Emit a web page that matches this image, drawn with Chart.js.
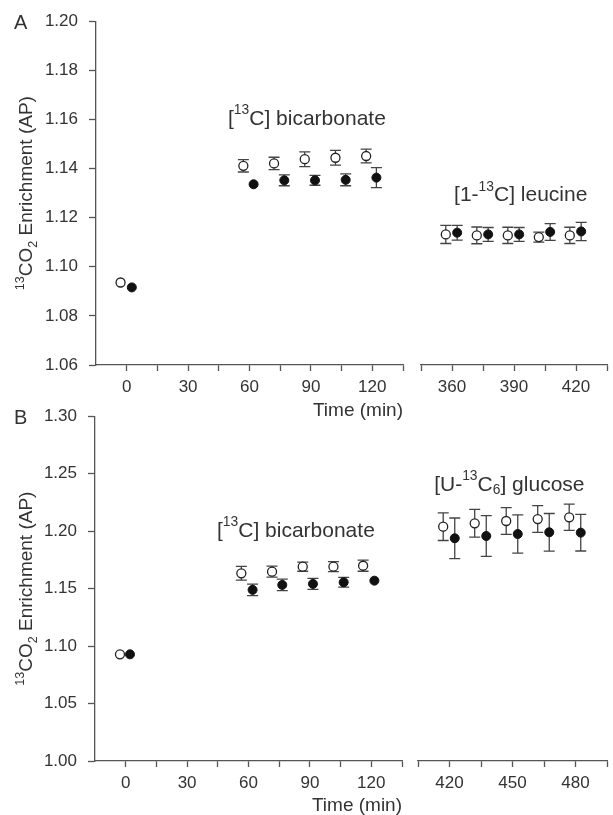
<!DOCTYPE html>
<html>
<head>
<meta charset="utf-8">
<script src="https://cdn.jsdelivr.net/npm/chart.js@4.4.1/dist/chart.umd.min.js"></script>
<style>
  html, body { margin: 0; padding: 0; background: #fff; width: 613px; height: 815px; overflow: hidden; }
  .box { position: absolute; }
</style>
</head>
<body>
<div class="box" style="left:0;top:0"><canvas id="aLeft" width="410" height="422"></canvas></div>
<div class="box" style="left:410px;top:0"><canvas id="aRight" width="203" height="422"></canvas></div>
<div class="box" style="left:0;top:395px"><canvas id="bLeft" width="410" height="422"></canvas></div>
<div class="box" style="left:410px;top:395px"><canvas id="bRight" width="203" height="422"></canvas></div>
<script>
"use strict";

// ---- Panel A: [13C] bicarbonate then [1-13C] leucine ----
const aOpenTime = [-3, 57, 72, 87, 102, 117, 357, 372, 387, 402, 417];
const aOpenValue = [1.0936, 1.1411, 1.1421, 1.1438, 1.1444, 1.1451, 1.1130, 1.1126, 1.1126, 1.1119, 1.1126];
const aOpenError = [0, 0.0025, 0.0025, 0.0030, 0.0030, 0.0028, 0.0037, 0.0034, 0.0033, 0.0020, 0.0033];
const aFilledTime = [2.5, 62, 77, 92, 107, 122, 362.5, 377.5, 392.5, 407.5, 422.5];
const aFilledValue = [1.0916, 1.1336, 1.1352, 1.1352, 1.1354, 1.1363, 1.1137, 1.1130, 1.1130, 1.1140, 1.1142];
const aFilledError = [0, 0, 0.0022, 0.0020, 0.0024, 0.0041, 0.0030, 0.0028, 0.0028, 0.0034, 0.0037];
const aYRange = [1.06, 1.20];
const aYStep = 0.02;
const aLeftX = [-15, 135];
const aRightX = [345, 435];

// ---- Panel B: [13C] bicarbonate then [U-13C6] glucose ----
const bOpenTime = [-2.8, 56.5, 71.5, 86.5, 101.5, 116, 417, 432, 447, 462, 477];
const bOpenValue = [1.0928, 1.1633, 1.1647, 1.1691, 1.1691, 1.1699, 1.2032, 1.2061, 1.2081, 1.2098, 1.2113];
const bOpenError = [0, 0.0060, 0.0048, 0.0040, 0.0043, 0.0048, 0.0120, 0.0120, 0.0116, 0.0116, 0.0114];
const bFilledTime = [2.1, 62, 76.5, 91.5, 106.5, 121.5, 422.5, 437.5, 452.5, 467.5, 482.5];
const bFilledValue = [1.0928, 1.1489, 1.1532, 1.1541, 1.1555, 1.1569, 1.1931, 1.1951, 1.1968, 1.1983, 1.1980];
const bFilledError = [0, 0.0050, 0.0050, 0.0048, 0.0043, 0, 0.0176, 0.0176, 0.0166, 0.0163, 0.0159];
const bYRange = [1.00, 1.30];
const bYStep = 0.05;
const bLeftX = [-15, 135];
const bRightX = [405, 495];

const xTickStep = 15;
const xLabelEvery = 30;

const FONT = "'Liberation Sans', Arial, Helvetica, sans-serif";
const TEXT = '#333';
const LINE = '#555';

// keep only the points that fall inside one segment of the broken axis
function pick(times, values, errors, range) {
    const data = [], errs = [];
    times.forEach((t, i) => {
        if (t >= range[0] && t <= range[1]) {
            data.push({ x: t, y: values[i] });
            errs.push(errors[i]);
        }
    });
    return { data, errs };
}

// draw text made of runs, some of them super/subscript
function drawRuns(ctx, runs, x, y, size) {
    let cx = x;
    runs.forEach(r => {
        const s = r.sup || r.sub ? size * 0.66 : size;
        ctx.font = s + 'px ' + FONT;
        const dy = r.sup ? -size * 0.40 : (r.sub ? size * 0.24 : 0);
        ctx.fillText(r.t, cx, y + dy);
        cx += ctx.measureText(r.t).width;
    });
}
function runsWidth(ctx, runs, size) {
    let w = 0;
    runs.forEach(r => {
        const s = r.sup || r.sub ? size * 0.66 : size;
        ctx.font = s + 'px ' + FONT;
        w += ctx.measureText(r.t).width;
    });
    return w;
}

// error bars drawn under the markers
const errorBars = {
    id: 'errorBars',
    beforeDatasetsDraw(chart) {
        const ctx = chart.ctx;
        const yScale = chart.scales.y;
        ctx.save();
        ctx.strokeStyle = '#444';
        ctx.lineWidth = 1.3;
        chart.data.datasets.forEach((ds, di) => {
            const meta = chart.getDatasetMeta(di);
            meta.data.forEach((pt, i) => {
                const e = ds.errors[i];
                if (!e) return;
                const v = ds.data[i].y;
                const top = yScale.getPixelForValue(v + e);
                const bot = yScale.getPixelForValue(v - e);
                ctx.beginPath();
                ctx.moveTo(pt.x, top); ctx.lineTo(pt.x, bot);
                ctx.moveTo(pt.x - 5.5, top); ctx.lineTo(pt.x + 5.5, top);
                ctx.moveTo(pt.x - 5.5, bot); ctx.lineTo(pt.x + 5.5, bot);
                ctx.stroke();
            });
        });
        ctx.restore();
    }
};

// labels placed in data coordinates, plus panel letter and y title
function labelPlugin(labels, letter) {
    return {
        id: 'labels',
        afterDraw(chart) {
            const ctx = chart.ctx;
            const xs = chart.scales.x, ys = chart.scales.y;
            ctx.save();
            ctx.fillStyle = TEXT;
            ctx.textBaseline = 'middle';
            labels.forEach(l => {
                drawRuns(ctx, l.runs, xs.getPixelForValue(l.x), ys.getPixelForValue(l.y), 21);
            });
            if (letter) {
                ctx.font = '20px ' + FONT;
                ctx.fillText(letter, 14, chart.chartArea.top + 2);
                // y axis title
                const runs = [{ t: '13', sup: true }, { t: 'CO' }, { t: '2', sub: true }, { t: ' Enrichment (AP)' }];
                const w = runsWidth(ctx, runs, 19);
                const cy = (chart.chartArea.top + chart.chartArea.bottom) / 2;
                ctx.translate(32, cy);
                ctx.rotate(-Math.PI / 2);
                ctx.textBaseline = 'alphabetic';
                drawRuns(ctx, runs, -w / 2, 0, 19);
            }
            ctx.restore();
        }
    };
}

function makeChart(id, o) {
    const open = pick(o.openTime, o.openValue, o.openError, o.xRange);
    const filled = pick(o.filledTime, o.filledValue, o.filledError, o.xRange);
    const canvas = document.getElementById(id);
    const ctx = canvas.getContext('2d');
    return new Chart(ctx, {
        type: 'scatter',
        data: {
            datasets: [
                { label: 'open', data: open.data, errors: open.errs,
                  backgroundColor: '#fff', borderColor: '#222', borderWidth: 1.3, pointRadius: 4.5 },
                { label: 'filled', data: filled.data, errors: filled.errs,
                  backgroundColor: '#111', borderColor: '#111', borderWidth: 1, pointRadius: 4.5 }
            ]
        },
        options: {
            responsive: false,
            animation: false,
            events: [],
            layout: { padding: o.pad },
            plugins: { legend: { display: false }, tooltip: { enabled: false } },
            scales: {
                x: {
                    type: 'linear',
                    min: o.xRange[0], max: o.xRange[1],
                    afterFit: s => { s.height = o.xAxisH; },
                    grid: {
                        drawOnChartArea: false, tickLength: 6, tickWidth: 1.3,
                        tickColor: c => (c.tick && c.tick.value === -15) ? 'rgba(0,0,0,0)' : LINE
                    },
                    border: { display: true, color: LINE, width: 1.3 },
                    ticks: {
                        stepSize: xTickStep, autoSkip: false, maxRotation: 0, padding: 6,
                        color: TEXT, font: { family: FONT, size: 17 },
                        callback: v => (v % xLabelEvery === 0 ? String(v) : '')
                    },
                    title: {
                        display: !!o.xTitle, text: o.xTitle || '', align: 'end',
                        color: TEXT, font: { family: FONT, size: 19 }, padding: { top: 0, bottom: 0 }
                    }
                },
                y: {
                    display: o.showY,
                    min: o.yRange[0], max: o.yRange[1],
                    afterFit: s => { s.width = o.yAxisW; },
                    grid: { drawOnChartArea: false, tickLength: 7, tickWidth: 1.3, tickColor: LINE },
                    border: { display: true, color: LINE, width: 1.3 },
                    ticks: {
                        stepSize: o.yStep, padding: 11, color: TEXT,
                        font: { family: FONT, size: 17 },
                        callback: v => v.toFixed(2)
                    }
                }
            }
        },
        plugins: [errorBars, labelPlugin(o.labels || [], o.letter)]
    });
}

makeChart('aLeft', {
    openTime: aOpenTime, openValue: aOpenValue, openError: aOpenError,
    filledTime: aFilledTime, filledValue: aFilledValue, filledError: aFilledError,
    xRange: aLeftX, yRange: aYRange, yStep: aYStep, showY: true,
    pad: { left: 0, top: 20, right: 7, bottom: 0 }, xAxisH: 57, yAxisW: 96,
    xTitle: 'Time (min)', letter: 'A',
    labels: [{ x: 49.5, y: 1.1602, runs: [{ t: '[' }, { t: '13', sup: true }, { t: 'C] bicarbonate' }] }]
});
makeChart('aRight', {
    openTime: aOpenTime, openValue: aOpenValue, openError: aOpenError,
    filledTime: aFilledTime, filledValue: aFilledValue, filledError: aFilledError,
    xRange: aRightX, yRange: aYRange, yStep: aYStep, showY: false,
    pad: { left: 11, top: 20, right: 0, bottom: 0 }, xAxisH: 57, yAxisW: 0,
    labels: [{ x: 361, y: 1.1289, runs: [{ t: '[1-' }, { t: '13', sup: true }, { t: 'C] leucine' }] }]
});
makeChart('bLeft', {
    openTime: bOpenTime, openValue: bOpenValue, openError: bOpenError,
    filledTime: bFilledTime, filledValue: bFilledValue, filledError: bFilledError,
    xRange: bLeftX, yRange: bYRange, yStep: bYStep, showY: true,
    pad: { left: 0, top: 20, right: 8, bottom: 0 }, xAxisH: 56, yAxisW: 95,
    xTitle: 'Time (min)', letter: 'B',
    labels: [{ x: 44.6, y: 1.2003, runs: [{ t: '[' }, { t: '13', sup: true }, { t: 'C] bicarbonate' }] }]
});
makeChart('bRight', {
    openTime: bOpenTime, openValue: bOpenValue, openError: bOpenError,
    filledTime: bFilledTime, filledValue: bFilledValue, filledError: bFilledError,
    xRange: bRightX, yRange: bYRange, yStep: bYStep, showY: false,
    pad: { left: 8, top: 20, right: 0, bottom: 0 }, xAxisH: 56, yAxisW: 0,
    labels: [{ x: 412.7, y: 1.2393, runs: [{ t: '[U-' }, { t: '13', sup: true }, { t: 'C' }, { t: '6', sub: true }, { t: '] glucose' }] }]
});
</script>
</body>
</html>
